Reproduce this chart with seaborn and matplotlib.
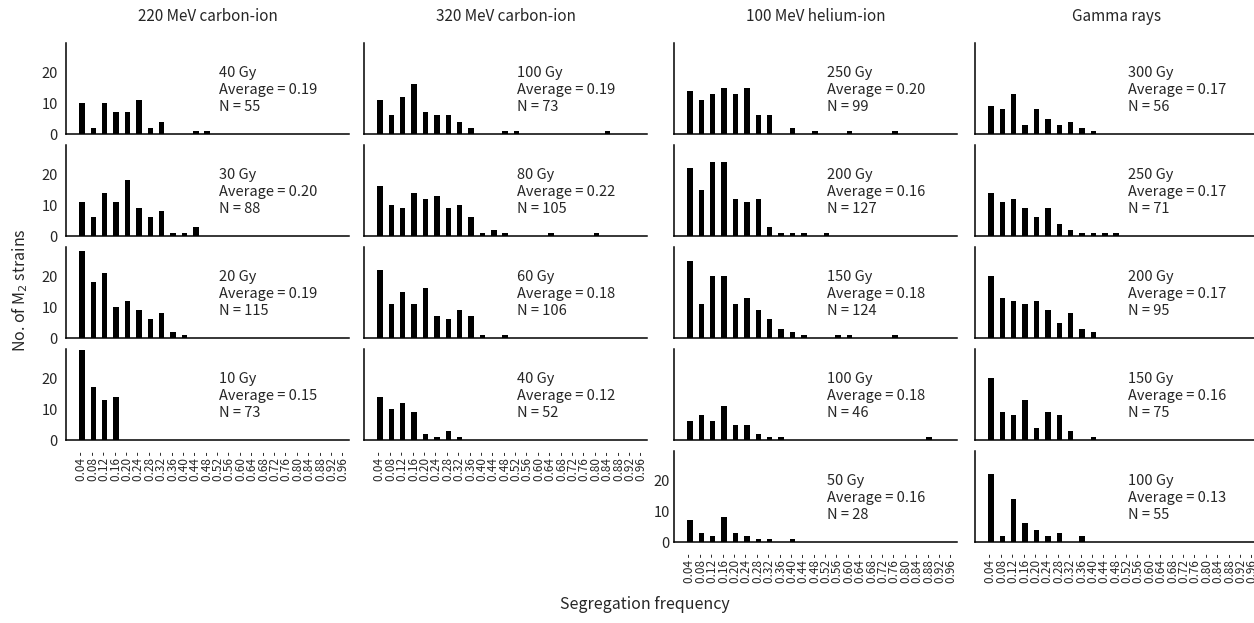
import pandas as pd
import matplotlib
matplotlib.use('Agg')
import matplotlib.pyplot as plt
import seaborn as sns

# ---------------------------------------- data ----------------------------------------
# segregation frequency classes (x categories)
freq_bins = ['0.04', '0.08', '0.12', '0.16', '0.20', '0.24', '0.28', '0.32',
             '0.36', '0.40', '0.44', '0.48', '0.52', '0.56', '0.60', '0.64',
             '0.68', '0.72', '0.76', '0.80', '0.84', '0.88', '0.92', '0.96']

col_titles = ['220 MeV carbon-ion', '320 MeV carbon-ion', '100 MeV helium-ion', 'Gamma rays']

# 220 MeV carbon-ion
c220_doses = ['40 Gy', '30 Gy', '20 Gy', '10 Gy']
c220_avg = ['0.19', '0.20', '0.19', '0.15']
c220_n = [55, 88, 115, 73]
c220_40 = [10, 2, 10, 7, 7, 11, 2, 4, 0, 0, 1, 1, 0, 0, 0, 0, 0, 0, 0, 0, 0, 0, 0, 0]
c220_30 = [11, 6, 14, 11, 18, 9, 6, 8, 1, 1, 3, 0, 0, 0, 0, 0, 0, 0, 0, 0, 0, 0, 0, 0]
c220_20 = [28, 18, 21, 10, 12, 9, 6, 8, 2, 1, 0, 0, 0, 0, 0, 0, 0, 0, 0, 0, 0, 0, 0, 0]
c220_10 = [29, 17, 13, 14, 0, 0, 0, 0, 0, 0, 0, 0, 0, 0, 0, 0, 0, 0, 0, 0, 0, 0, 0, 0]

# 320 MeV carbon-ion
c320_doses = ['100 Gy', '80 Gy', '60 Gy', '40 Gy']
c320_avg = ['0.19', '0.22', '0.18', '0.12']
c320_n = [73, 105, 106, 52]
c320_100 = [11, 6, 12, 16, 7, 6, 6, 4, 2, 0, 0, 1, 1, 0, 0, 0, 0, 0, 0, 0, 1, 0, 0, 0]
c320_80 = [16, 10, 9, 14, 12, 13, 9, 10, 6, 1, 2, 1, 0, 0, 0, 1, 0, 0, 0, 1, 0, 0, 0, 0]
c320_60 = [22, 11, 15, 11, 16, 7, 6, 9, 7, 1, 0, 1, 0, 0, 0, 0, 0, 0, 0, 0, 0, 0, 0, 0]
c320_40 = [14, 10, 12, 9, 2, 1, 3, 1, 0, 0, 0, 0, 0, 0, 0, 0, 0, 0, 0, 0, 0, 0, 0, 0]

# 100 MeV helium-ion
he_doses = ['250 Gy', '200 Gy', '150 Gy', '100 Gy', '50 Gy']
he_avg = ['0.20', '0.16', '0.18', '0.18', '0.16']
he_n = [99, 127, 124, 46, 28]
he_250 = [14, 11, 13, 15, 13, 15, 6, 6, 0, 2, 0, 1, 0, 0, 1, 0, 0, 0, 1, 0, 0, 0, 0, 0]
he_200 = [22, 15, 24, 24, 12, 11, 12, 3, 1, 1, 1, 0, 1, 0, 0, 0, 0, 0, 0, 0, 0, 0, 0, 0]
he_150 = [25, 11, 20, 20, 11, 13, 9, 6, 3, 2, 1, 0, 0, 1, 1, 0, 0, 0, 1, 0, 0, 0, 0, 0]
he_100 = [6, 8, 6, 11, 5, 5, 2, 1, 1, 0, 0, 0, 0, 0, 0, 0, 0, 0, 0, 0, 0, 1, 0, 0]
he_50 = [7, 3, 2, 8, 3, 2, 1, 1, 0, 1, 0, 0, 0, 0, 0, 0, 0, 0, 0, 0, 0, 0, 0, 0]

# Gamma rays
g_doses = ['300 Gy', '250 Gy', '200 Gy', '150 Gy', '100 Gy']
g_avg = ['0.17', '0.17', '0.17', '0.16', '0.13']
g_n = [56, 71, 95, 75, 55]
g_300 = [9, 8, 13, 3, 8, 5, 3, 4, 2, 1, 0, 0, 0, 0, 0, 0, 0, 0, 0, 0, 0, 0, 0, 0]
g_250 = [14, 11, 12, 9, 6, 9, 4, 2, 1, 1, 1, 1, 0, 0, 0, 0, 0, 0, 0, 0, 0, 0, 0, 0]
g_200 = [20, 13, 12, 11, 12, 9, 5, 8, 3, 2, 0, 0, 0, 0, 0, 0, 0, 0, 0, 0, 0, 0, 0, 0]
g_150 = [20, 9, 8, 13, 4, 9, 8, 3, 0, 1, 0, 0, 0, 0, 0, 0, 0, 0, 0, 0, 0, 0, 0, 0]
g_100 = [22, 2, 14, 6, 4, 2, 3, 0, 2, 0, 0, 0, 0, 0, 0, 0, 0, 0, 0, 0, 0, 0, 0, 0]

columns = [
    (c220_doses, c220_avg, c220_n, [c220_40, c220_30, c220_20, c220_10]),
    (c320_doses, c320_avg, c320_n, [c320_100, c320_80, c320_60, c320_40]),
    (he_doses, he_avg, he_n, [he_250, he_200, he_150, he_100, he_50]),
    (g_doses, g_avg, g_n, [g_300, g_250, g_200, g_150, g_100]),
]

# ---------------------------------------- plot ----------------------------------------
sns.set_style('white')
plt.rcParams['font.family'] = ['Noto Sans CJK JP', 'DejaVu Sans']

W, H = 1254, 623
fig = plt.figure(figsize=(W / 100, H / 100), dpi=100)

col_left = [66, 364, 674, 975]     # px
col_width = 283
row_top = [43, 145, 247, 349, 451]
row_height = 91

for col, (doses, avgs, ns, panels) in enumerate(columns):
    n_rows = len(panels)
    for row in range(n_rows):
        left = col_left[col] / W
        bottom = (H - row_top[row] - row_height) / H
        ax = fig.add_axes([left, bottom, col_width / W, row_height / H])

        df = pd.DataFrame({'freq': freq_bins, 'count': panels[row]})
        sns.barplot(data=df, x='freq', y='count', order=freq_bins, color='black',
                    saturation=1, width=0.48, linewidth=0, errorbar=None, ax=ax)

        ax.set_xlim(-1.4, 23.45)
        ax.set_ylim(0, 29.4)
        ax.set_yticks([0, 10, 20])
        ax.set_xlabel('')
        ax.set_ylabel('')
        sns.despine(ax=ax)
        for sp in ['left', 'bottom']:
            ax.spines[sp].set_linewidth(1.1)
            ax.spines[sp].set_color('black')

        show_y = (col == 0) or (col == 2 and row == n_rows - 1)
        ax.tick_params(axis='y', direction='in', length=4, width=0.8,
                       labelsize=10.5, labelleft=show_y, pad=6 if col == 0 else 3)

        if row == n_rows - 1:
            ax.set_xticks(range(len(freq_bins)))
            ax.set_xticklabels([f + ' -' for f in freq_bins], rotation=90, fontsize=8.5)
            ax.tick_params(axis='x', length=0, pad=8)
        else:
            ax.set_xticks([])

        ax.text(0.54, 0.75, '%s\nAverage = %s\nN = %d' % (doses[row], avgs[row], ns[row]),
                transform=ax.transAxes, ha='left', va='top', fontsize=10.5, linespacing=1.3)

        if row == 0:
            ax.set_title(col_titles[col], fontsize=11, pad=16)

fig.text(0.016, 0.535, 'No. of M$_2$ strains', rotation=90, ha='center', va='center', fontsize=11.5)
fig.text(0.514, 0.03, 'Segregation frequency', ha='center', va='center', fontsize=11.5)

fig.savefig('out.png', dpi=100)
